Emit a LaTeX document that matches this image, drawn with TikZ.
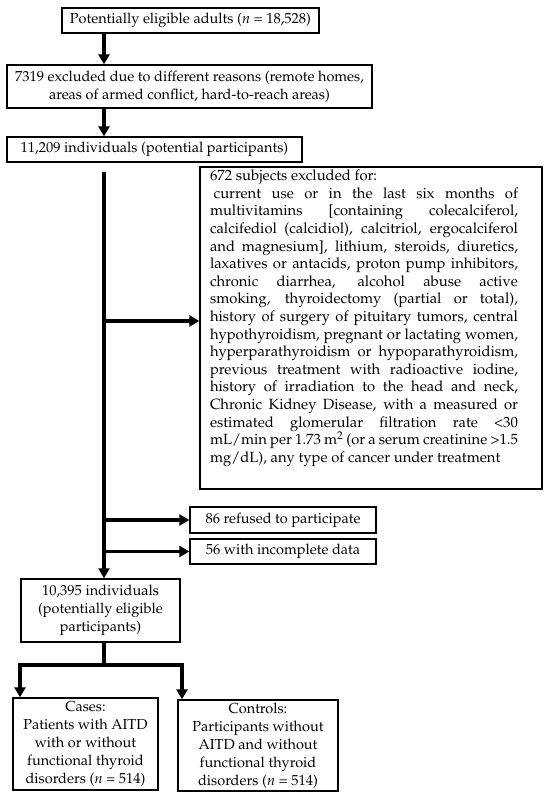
\documentclass[tikz,border=0pt]{standalone}
\usepackage[T1]{fontenc}
\usepackage{mathpazo}
\usetikzlibrary{arrows.meta}
\newcommand{\jline}[1]{\makebox[308pt][s]{#1}\\}
\begin{document}
\begin{tikzpicture}[x=1pt,y=-1pt,
  box/.style={draw=black, line width=1.4pt, inner sep=0pt, align=center,
    font=\fontsize{14.5}{18}\selectfont},
  flow/.style={line width=3.5pt, -{Triangle[length=10pt,width=11pt]}},
  plain/.style={line width=3.5pt}
]
\useasboundingbox (0,0) rectangle (550,799);
\fill[white] (0,0) rectangle (550,799);

\node[box, minimum width=257pt, minimum height=25pt] (b1) at (190.5,20.5)
  {Potentially eligible adults ($n$ = 18,528)};
\node[box, minimum width=365pt, minimum height=43pt] (b2) at (189.5,86.5)
  {7319 excluded due to different reasons (remote homes,\\areas of armed conflict, hard-to-reach areas)};
\node[box, minimum width=295pt, minimum height=25pt] (b3) at (154.5,149.5)
  {11,209 individuals (potential participants)};
\node[box, minimum width=342pt, minimum height=322pt, inner ysep=3pt] (ex) at (371,328)
  {\hspace*{10pt}\parbox[c][316pt][t]{308pt}{\fontsize{14.8}{17.6}\selectfont
   \noindent 672 subjects excluded for:\\
   \jline{\hspace*{0.25em}current use or in the last six months of}
   \jline{multivitamins [containing colecalciferol,}
   \jline{calcifediol (calcidiol), calcitriol, ergocalciferol}
   \jline{and magnesium], lithium, steroids, diuretics,}
   \jline{laxatives or antacids, proton pump inhibitors,}
   \jline{chronic diarrhea, alcohol abuse active}
   \jline{smoking, thyroidectomy (partial or total),}
   \jline{history of surgery of pituitary tumors, central}
   \jline{hypothyroidism, pregnant or lactating women,}
   \jline{hyperparathyroidism or hypoparathyroidism,}
   \jline{previous treatment with radioactive iodine,}
   \jline{history of irradiation to the head and neck,}
   \jline{Chronic Kidney Disease, with a measured or}
   \jline{estimated glomerular filtration rate <30}
   \jline{mL/min per 1.73 m\textsuperscript{2} (or a serum creatinine >1.5}
   mg/dL), any type of cancer under treatment\par}\hspace*{24pt}};
\node[box, minimum width=186pt, minimum height=26pt] (r86) at (283,520)
  {86 refused to participate};
\node[box, minimum width=186pt, minimum height=25pt] (r56) at (283,551.5)
  {56 with incomplete data};
\node[box, minimum width=159pt, minimum height=63pt] (b4) at (100.5,610.5)
  {10,395 individuals\\(potentially eligible\\participants)};
\node[box, minimum width=145pt, minimum height=92pt] (cases) at (85.5,744)
  {Cases:\\Patients with AITD\\with or without\\functional thyroid\\disorders ($n$ = 514)};
\node[box, minimum width=160pt, minimum height=91pt] (ctrl) at (258,745.5)
  {Controls:\\Participants without\\AITD and without\\functional thyroid\\disorders ($n$ = 514)};

% connectors
\draw[flow] (b1.south -| 104,0) -- (b2.north -| 104,0);
\draw[flow] (b2.south -| 104,0) -- (b3.north -| 104,0);
\coordinate (vtop) at (104,172);
\draw[flow] (vtop) -- (b4.north -| vtop);
\draw[flow] (104,321) -- (ex.west |- 0,321);
\draw[flow] (r86.west -| vtop) -- (r86.west);
\draw[flow] (r56.west -| vtop) -- (r56.west);
\coordinate (split) at (104,665);
\coordinate (sl) at (20,665);
\coordinate (sr) at (182,665);
\draw[plain] (b4.south -| split) -- (split);
\draw[plain, line cap=rect] (sl) -- (sr);
\draw[flow] (sl) -- (sl |- cases.north);
\draw[flow] (sr) -- (sr |- ctrl.north);
\end{tikzpicture}
\end{document}
